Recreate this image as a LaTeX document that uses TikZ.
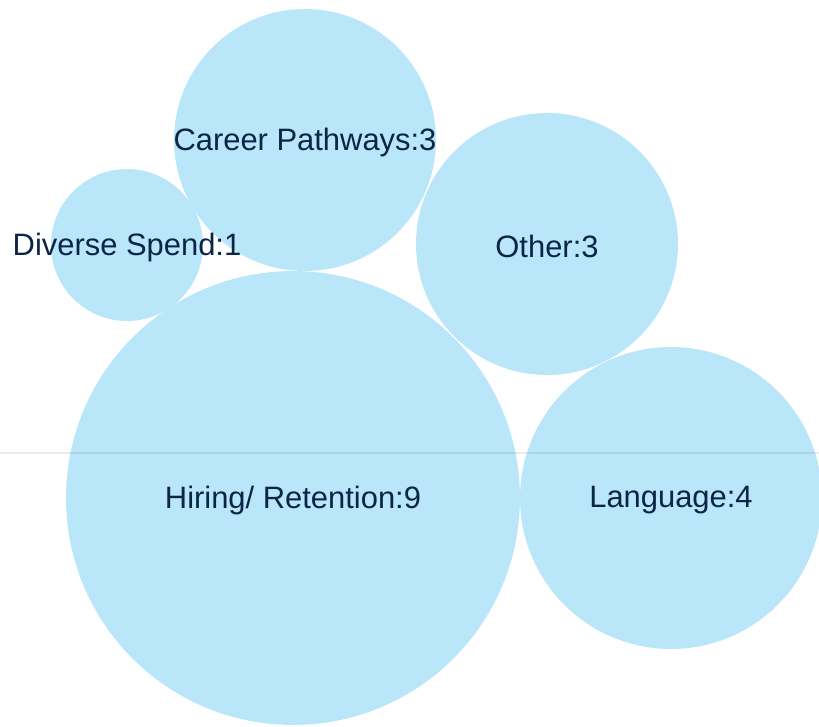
\documentclass[tikz,border=0pt]{standalone}
\usepackage{fontspec}
\setmainfont{Liberation Sans}
\usepackage{xcolor}
\definecolor{bubble}{HTML}{B9E6F9}
\definecolor{navy}{HTML}{0B2447}

\begin{document}
\begin{tikzpicture}[x=0.02cm, y=-0.02cm,
  bub/.style={circle, fill=bubble, inner sep=0pt},
  tag/.style={text=navy, inner sep=0pt, yshift=-0.05cm, font=\fontsize{17.6}{20}\selectfont}]

\useasboundingbox (0,0) rectangle (819,727);

% Bubbles
\node[bub, minimum size=5.24cm] (career) at (305,140) {};
\node[bub, minimum size=3.04cm] (diverse) at (127,245) {};
\node[bub, minimum size=5.24cm] (other) at (547,244) {};
\node[bub, minimum size=9.08cm] (hiring) at (293,498) {};
\node[bub, minimum size=6.04cm] (language) at (671,498) {};

% Axis line
\coordinate (l) at (0,453);
\coordinate (r) at (819,453);
\draw[black, opacity=0.08, line width=0.6pt] (l) -- (r);

% Labels
\node[tag] (career-t) at (career.center) {Career Pathways:3};
\node[tag] (diverse-t) at (diverse.center) {Diverse Spend:1};
\node[tag] (other-t) at (other.center) {Other:3};
\node[tag] (hiring-t) at (hiring.center) {Hiring/ Retention:9};
\node[tag] (language-t) at (language.center) {Language:4};
\end{tikzpicture}
\end{document}
